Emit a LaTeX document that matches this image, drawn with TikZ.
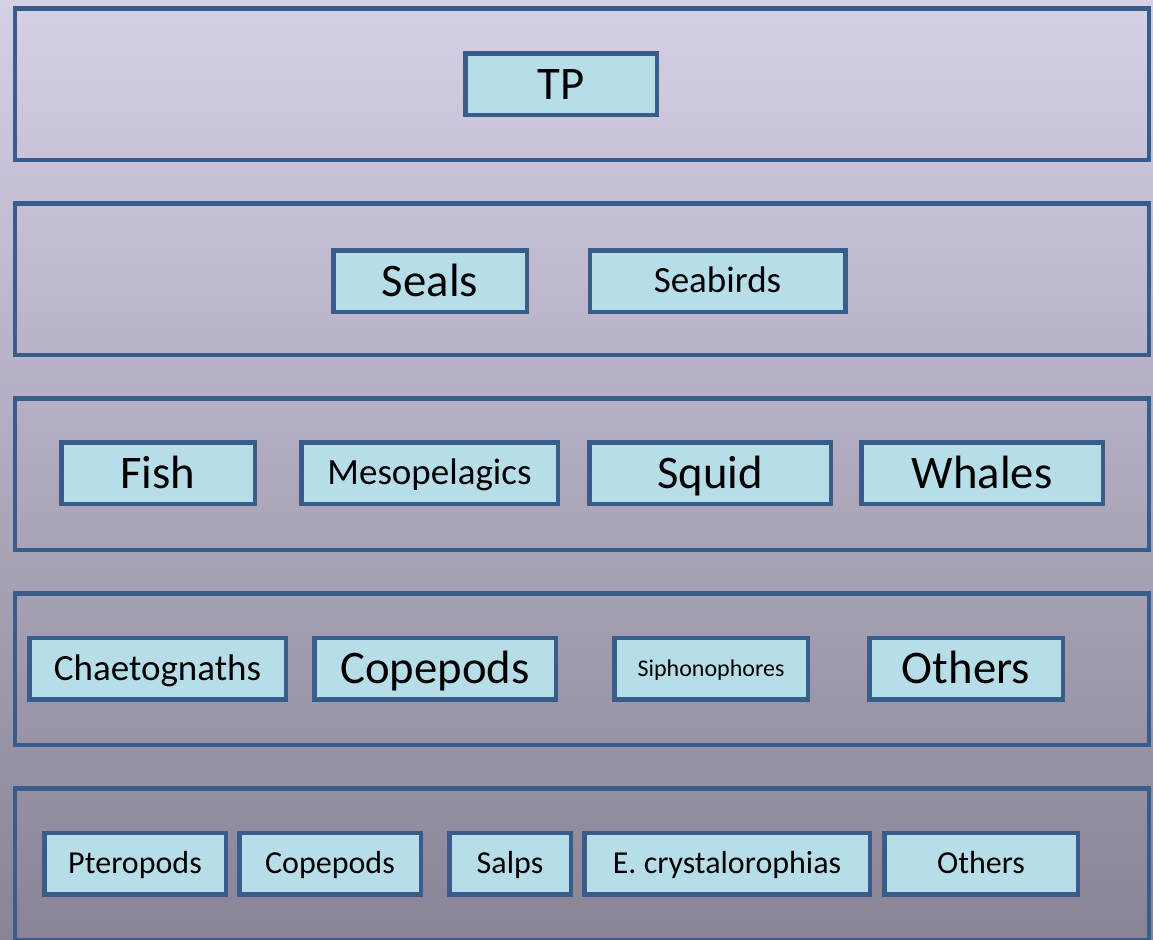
\documentclass[tikz,border=0pt]{standalone}
\usepackage{fontspec}
\setmainfont{Carlito}
\definecolor{bgtop}{RGB}{214,208,229}
\definecolor{bgmid}{RGB}{188,182,204}
\definecolor{bgbot}{RGB}{136,131,149}
\definecolor{edge}{RGB}{56,93,138}
\definecolor{boxfill}{RGB}{183,222,232}
\tikzset{
  bandbox/.style={draw=edge, line width=4.5pt, fill=none, inner sep=0pt,
    minimum width=1134pt, minimum height=151.3pt},
  itembox/.style={draw=edge, line width=4.5pt, fill=boxfill, inner sep=0pt,
    minimum height=61.5pt, text=black},
  bigtext/.style={font=\fontsize{46.7}{50}\selectfont, text height=30pt, text depth=0pt},
  medtext/.style={font=\fontsize{37}{40}\selectfont, text height=23.8pt, text depth=0pt},
  smalltext/.style={font=\fontsize{24}{27}\selectfont, text height=15.5pt, text depth=0pt},
  rowfive/.style={font=\fontsize{32}{35}\selectfont, text height=20.6pt, text depth=0pt},
}
\begin{document}
\begin{tikzpicture}[x=1pt, y=-1pt]
\useasboundingbox (0,0) rectangle (1153,939);
\shade[top color=bgtop, middle color=bgmid, bottom color=bgbot] (0,0) rectangle (1153,939);

% bands
\node[bandbox] (band1) at (581.75,84.35) {};
\node[bandbox] (band2) at (581.75,279.35) {};
\node[bandbox] (band3) at (581.75,474.35) {};
\node[bandbox] (band4) at (581.75,669.35) {};
\node[bandbox] (band5) at (581.75,864.35) {};

% row 1
\node[itembox, bigtext, minimum width=191.5pt] (tp) at (561,84.5) {TP};

% row 2
\node[itembox, bigtext, minimum width=193.5pt] (seals) at (430,281) {Seals};
\node[itembox, medtext, minimum width=255.5pt] (seabirds) at (717.5,281) {Seabirds};

% row 3
\node[itembox, bigtext, minimum width=193.5pt] (fish) at (158,473) {Fish};
\node[itembox, medtext, minimum width=256.5pt] (meso) at (429.5,473) {Mesopelagics};
\node[itembox, bigtext, minimum width=241.5pt] (squid) at (710,473) {Squid};
\node[itembox, bigtext, minimum width=241.5pt] (whales) at (982,473) {Whales};

% row 4
\node[itembox, medtext, minimum width=256.5pt] (chaeto) at (157.5,668.5) {Chaetognaths};
\node[itembox, bigtext, minimum width=241.5pt] (copepodsA) at (435,668.5) {Copepods};
\node[itembox, smalltext, minimum width=193.5pt] (siphono) at (711,668.5) {Siphonophores};
\node[itembox, bigtext, minimum width=193.5pt] (othersA) at (966,668.5) {Others};

% row 5
\node[itembox, rowfive, minimum width=181.5pt] (ptero) at (135,863.5) {Pteropods};
\node[itembox, rowfive, minimum width=181.5pt] (copepodsB) at (330,863.5) {Copepods};
\node[itembox, rowfive, minimum width=121.5pt] (salps) at (510,863.5) {Salps};
\node[itembox, rowfive, minimum width=285.5pt] (ecryst) at (727,863.5) {E. crystalorophias};
\node[itembox, rowfive, minimum width=193.5pt] (othersB) at (981,863.5) {Others};
\end{tikzpicture}
\end{document}
